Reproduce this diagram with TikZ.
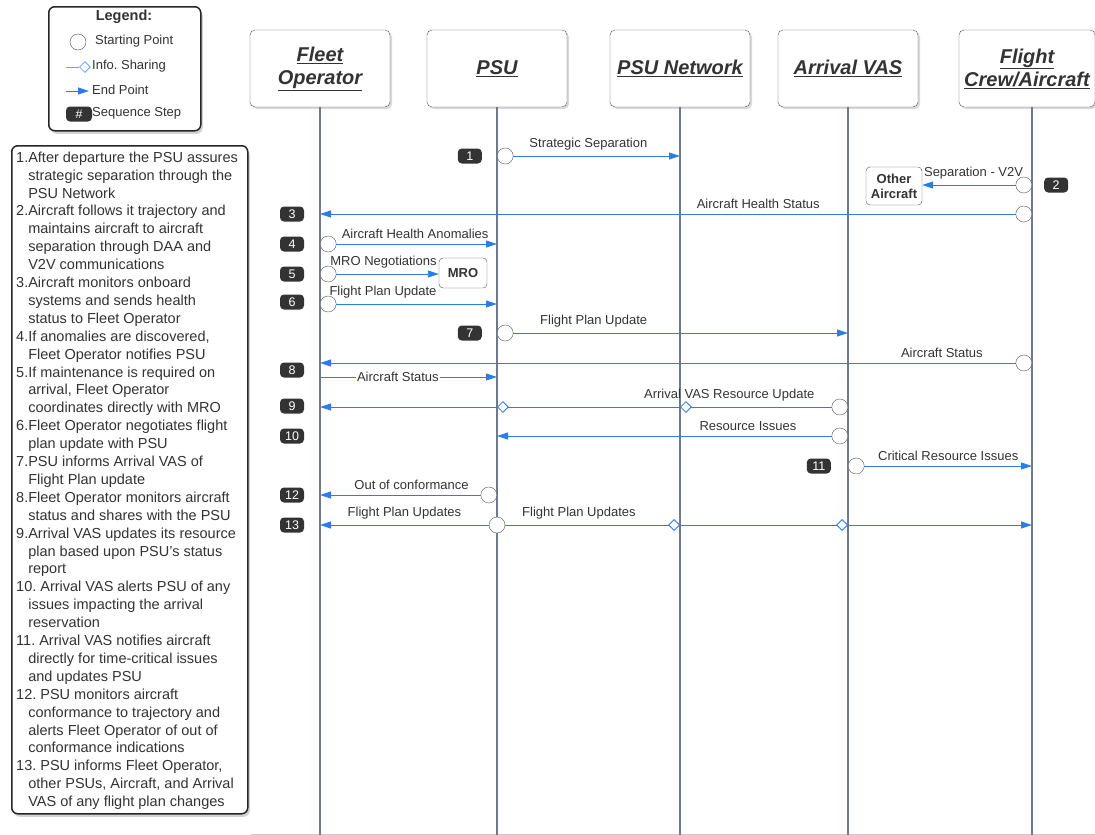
\documentclass[tikz,border=0pt]{standalone}
\usepackage{fontspec}
\setmainfont{Liberation Sans}
\usetikzlibrary{positioning}
\usetikzlibrary{shapes.geometric}
\usetikzlibrary{arrows.meta}
\usetikzlibrary{shadows}
\definecolor{seta}{HTML}{2B7CE9}
\definecolor{vida}{HTML}{717A8A}
\definecolor{escuro}{HTML}{333333}
\definecolor{borda}{HTML}{555555}
\newcommand\ind{\phantom{1.}}
\frenchspacing

\begin{document}
\begin{tikzpicture}[
      x=1pt, y=-1pt,
      actor/.style={draw=borda, rounded corners=5pt, fill=white, minimum width=140pt,
        minimum height=77pt, align=center, text=escuro,
        font=\fontsize{20}{23}\selectfont\bfseries\itshape,
        drop shadow={opacity=0.3, shadow xshift=2pt, shadow yshift=-2pt}},
      panel/.style={draw=black!85, line width=1.5pt, rounded corners=6pt, fill=white,
        drop shadow={opacity=0.35, shadow xshift=2pt, shadow yshift=-3pt}},
      life/.style={draw=vida, line width=2pt},
      msg/.style={draw=seta, line width=0.9pt, -{Triangle[length=11pt, width=7pt]}},
      startpt/.style={circle, draw=borda, fill=white, minimum size=16pt, inner sep=0pt},
      share/.style={diamond, draw=seta, fill=white, minimum size=11pt, inner sep=0pt, line width=0.8pt},
      stepno/.style={fill=escuro, rounded corners=4pt, text=white, minimum width=24pt,
        minimum height=15pt, inner sep=0pt, font=\fontsize{12.5}{12.5}\selectfont},
      lbl/.style={text=escuro, font=\fontsize{13}{13}\selectfont, inner sep=2pt},
      tag/.style={lbl, above=3pt},
      other/.style={draw=borda, rounded corners=4pt, fill=white, align=center, text=escuro,
        font=\fontsize{13}{15}\selectfont\bfseries, inner sep=0pt}
    ]
    \useasboundingbox (0,0) rectangle (1095,835);

    % Legenda
    \node[panel, anchor=north west, minimum width=152pt, minimum height=124pt] (legend) at (48,6) {};
    \node[text=escuro, font=\fontsize{14.5}{14.5}\selectfont\bfseries] (legtitle) at (124,17) {Legend:};
    \node[startpt] (legstart) at (78,42) {};
    \node[lbl, anchor=west] (legstarttxt) at (93,41) {Starting Point};
    \coordinate (legsharea) at (66,67);
    \node[share, draw=seta!70, anchor=west] (legshare) at (79,67) {};
    \draw[seta!70, line width=0.9pt] (legsharea) -- (legshare);
    \node[lbl, anchor=west] (legsharetxt) at (90,66) {Info. Sharing};
    \coordinate (legenda) at (66,91);
    \coordinate (legendb) at (89,91);
    \draw[msg] (legenda) -- (legendb);
    \node[lbl, anchor=west] (legendtxt) at (90,90) {End Point};
    \node[stepno, minimum width=26pt] (leghash) at (79,114) {\#};
    \node[lbl, anchor=west] (legsteptxt) at (90,113) {Sequence Step};

    % Passos
    \node[panel, anchor=north west, minimum width=236pt, minimum height=668pt] (stepsbox) at (11,145) {};
    \node[anchor=north west, align=left, inner sep=0pt, text=escuro,
      font=\fontsize{14.5}{17.9}\selectfont] (steps) at (16,151.5) {%
      1.After departure the PSU assures\\
      \ind strategic separation through the\\
      \ind PSU Network\\
      2.Aircraft follows it trajectory and\\
      \ind maintains aircraft to aircraft\\
      \ind separation through DAA and\\
      \ind V2V communications\\
      3.Aircraft monitors onboard\\
      \ind systems and sends health\\
      \ind status to Fleet Operator\\
      4.If anomalies are discovered,\\
      \ind Fleet Operator notifies PSU\\
      5.If maintenance is required on\\
      \ind arrival, Fleet Operator\\
      \ind coordinates directly with MRO\\
      6.Fleet Operator negotiates flight\\
      \ind plan update with PSU\\
      7.PSU informs Arrival VAS of\\
      \ind Flight Plan update\\
      8.Fleet Operator monitors aircraft\\
      \ind status and shares with the PSU\\
      9.Arrival VAS updates its resource\\
      \ind plan based upon PSU's status\\
      \ind report\\
      10. Arrival VAS alerts PSU of any\\
      \ind issues impacting the arrival\\
      \ind reservation\\
      11. Arrival VAS notifies aircraft\\
      \ind directly for time-critical issues\\
      \ind and updates PSU\\
      12. PSU monitors aircraft\\
      \ind conformance to trajectory and\\
      \ind alerts Fleet Operator of out of\\
      \ind conformance indications\\
      13. PSU informs Fleet Operator,\\
      \ind other PSUs, Aircraft, and Arrival\\
      \ind VAS of any flight plan changes};

    % Participantes
    \node[actor] (fleet) at (320,68.5) {\underline{Fleet}\\\underline{Operator}};
    \node[actor] (psu) at (497,68.5) {\underline{PSU}};
    \node[actor] (net) at (680,68.5) {\underline{PSU Network}};
    \node[actor] (vas) at (848,68.5) {\underline{Arrival VAS}};
    \node[actor, minimum width=136pt] (crew) at (1027,68.5) {\underline{Flight}\\\underline{Crew/Aircraft}};
    \coordinate (crewL) at ([xshift=5pt]crew.south);
    \coordinate (bottom) at (0,835);
    \coordinate (bcol) at (292,0);
    \draw[black!20] (251,834) -- (1095,834);
    \foreach \a in {fleet, psu, net, vas}
      \draw[life] (\a.south) -- (\a.south |- bottom);
    \draw[life] (crewL) -- (crewL |- bottom);

    % Linhas das mensagens
    \foreach \n/\y in {1/156, 2/185, 3/214, 4/244, 5/274, 6/304, 7/333, 8/363, 8b/377,
                       9/407, 10/436, 11/466, 12/495, 13/525}
      \coordinate (r\n) at (0,\y);

    % 1
    \node[startpt, anchor=west] (s1) at (psu |- r1) {};
    \draw[msg] (s1) -- (net |- r1) node[tag, pos=0.45] {Strategic Separation};
    \node[stepno, left=15pt of s1] (n1) {1};
    % 2
    \node[startpt, anchor=east] (s2) at (crewL |- r2) {};
    \node[other, minimum width=56pt, minimum height=38pt] (oac) at (894,186) {Other\\Aircraft};
    \draw[msg] (s2) -- (s2 -| oac.east) node[tag, pos=0.45] {Separation - V2V};
    \node[stepno, right=12pt of s2] (n2) {2};
    % 3
    \node[startpt, anchor=east] (s3) at (crewL |- r3) {};
    \draw[msg] (s3) -- (fleet |- r3) node[tag, pos=0.37] {Aircraft Health Status};
    \node[stepno] (n3) at (bcol |- r3) {3};
    % 4
    \node[startpt, anchor=west] (s4) at (fleet |- r4) {};
    \draw[msg] (s4) -- (psu |- r4) node[tag, pos=0.49] {Aircraft Health Anomalies};
    \node[stepno] (n4) at (bcol |- r4) {4};
    % 5
    \node[startpt, anchor=west] (s5) at (fleet |- r5) {};
    \node[other, minimum width=48pt, minimum height=30pt] (mro) at (463,273) {MRO};
    \draw[msg] (s5) -- (s5 -| mro.west) node[tag, pos=0.46] {MRO Negotiations};
    \node[stepno] (n5) at (bcol |- r5) {5};
    % 6
    \node[startpt, anchor=west] (s6) at (fleet |- r6) {};
    \draw[msg] (s6) -- (psu |- r6) node[tag, pos=0.29] {Flight Plan Update};
    \node[stepno] (n6) at (292,302) {6};
    % 7
    \node[startpt, anchor=west] (s7) at (psu |- r7) {};
    \draw[msg] (s7) -- (vas |- r7) node[tag, pos=0.24] {Flight Plan Update};
    \node[stepno, left=15pt of s7] (n7) {7};
    % 8
    \node[startpt, anchor=east] (s8) at (crewL |- r8) {};
    \draw[msg] (s8) -- (fleet |- r8) node[tag, pos=0.106] {Aircraft Status};
    \draw[msg] (fleet |- r8b) -- (psu |- r8b) node[lbl, fill=white, inner sep=1pt, pos=0.44] {Aircraft Status};
    \node[stepno] (n8) at (292,370) {8};
    % 9
    \node[startpt, anchor=east] (s9) at (vas |- r9) {};
    \draw[msg] (s9) -- (fleet |- r9) node[tag, pos=0.2] {Arrival VAS Resource Update};
    \node[share, anchor=west] (d9a) at (net |- r9) {};
    \node[share, anchor=west] (d9b) at (psu |- r9) {};
    \node[stepno] (n9) at (292,406) {9};
    % 10
    \node[startpt, anchor=east] (s10) at (vas |- r10) {};
    \draw[msg] (s10) -- (psu |- r10) node[tag, pos=0.25] {Resource Issues};
    \node[stepno] (n10) at (bcol |- r10) {10};
    % 11
    \node[startpt, anchor=west] (s11) at (vas |- r11) {};
    \draw[msg] (s11) -- (crewL |- r11) node[tag, pos=0.5] {Critical Resource Issues};
    \node[stepno, left=17pt of s11] (n11) {11};
    % 12
    \node[startpt, anchor=east] (s12) at (psu |- r12) {};
    \draw[msg] (s12) -- (fleet |- r12) node[tag, pos=0.43] {Out of conformance};
    \node[stepno] (n12) at (bcol |- r12) {12};
    % 13
    \node[startpt] (s13) at (psu |- r13) {};
    \draw[msg] (s13) -- (fleet |- r13) node[tag, pos=0.5] {Flight Plan Updates};
    \draw[msg] (s13) -- (crewL |- r13) node[tag, pos=0.14] {Flight Plan Updates};
    \node[share, anchor=east] (d13a) at (net |- r13) {};
    \node[share, anchor=east] (d13b) at (vas |- r13) {};
    \node[stepno] (n13) at (bcol |- r13) {13};
  \end{tikzpicture}
\end{document}
